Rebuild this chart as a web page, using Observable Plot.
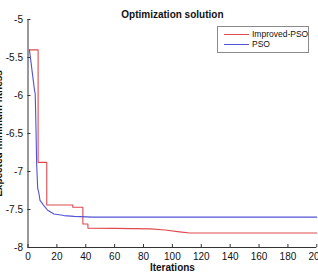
<!DOCTYPE html>
<html>
<head>
<meta charset="utf-8">
<script src="https://cdn.jsdelivr.net/npm/d3@7"></script>
<script src="https://cdn.jsdelivr.net/npm/@observablehq/plot@0.6"></script>
<style>
  html, body { margin: 0; padding: 0; background: #fff; }
  #wrap { position: relative; width: 318px; height: 277px; font-family: "Liberation Sans", Arial, sans-serif; }
  .legend { position: absolute; left: 217px; top: 26px; width: 90px; height: 25px; border: 1px solid #8a8a8a; background: #fff; font-size: 8.5px; color: #111; }
  .legend .row { position: absolute; left: 6px; height: 10px; display: flex; align-items: center; white-space: nowrap; }
  .legend .sw { width: 25px; height: 0; border-top: 1px solid; margin-right: 3px; flex: none; }
</style>
</head>
<body>
<div id="wrap"></div>
<script>
// Convergence of the best fitness per iteration for both optimisers
const improvedIter = [1, 7, 7, 13, 13, 31, 31, 38, 38, 41.5, 41.5, 60, 85, 95, 105, 112, 200];
const improvedFit  = [-5.4, -5.4, -6.88, -6.88, -7.44, -7.44, -7.47, -7.47, -7.69, -7.69, -7.745, -7.748, -7.755, -7.77, -7.795, -7.81, -7.81];

const psoIter = [1, 4.5, 5, 5.5, 6, 6.7, 7.5, 8.3, 9.5, 11, 13.6, 18, 25, 32, 45, 200];
const psoFit  = [-5.4, -5.93, -5.98, -6.4, -6.9, -7.22, -7.28, -7.38, -7.41, -7.45, -7.51, -7.56, -7.58, -7.59, -7.6, -7.6];

const seriesNames = ["Improved-PSO", "PSO"];
const seriesColors = ["#e04a4f", "#5352d6"];

const xTicks = d3.range(0, 201, 20);
const yTicks = [-8, -7.5, -7, -6.5, -6, -5.5, -5];

const title = "Optimization solution";
const xLabel = "Iterations";
const yLabel = "Expected minimum fitness";

const improved = improvedIter.map((x, i) => ({x, y: improvedFit[i]}));
const pso = psoIter.map((x, i) => ({x, y: psoFit[i]}));

const W = 318, H = 277;
const mL = 27.5, mR = 1.7, mT = 19, mB = 30;
const innerW = W - mL - mR, innerH = H - mT - mB;
const axisColor = "#333";

const chart = Plot.plot({
  width: W,
  height: H,
  marginLeft: mL,
  marginRight: mR,
  marginTop: mT,
  marginBottom: mB,
  style: { fontFamily: "'Liberation Sans', Arial, sans-serif", fontSize: "10px", background: "#fff", color: "#111" },
  x: { domain: [0, 200] },
  y: { domain: [-8, -5] },
  marks: [
    Plot.axisX({ ticks: xTicks, tickSize: 0, tickPadding: 5, label: null, tickFormat: d => String(d) }),
    Plot.axisY({ ticks: yTicks, tickSize: 0, tickPadding: 5, label: null, tickFormat: d => String(d) }),
    // inward ticks
    Plot.tickX(xTicks, { x: d => d, insetTop: innerH - 3, stroke: axisColor }),
    Plot.tickY(yTicks, { y: d => d, insetRight: innerW - 3, stroke: axisColor }),
    Plot.ruleY([-8], { stroke: axisColor }),
    Plot.ruleX([0], { stroke: axisColor }),
    Plot.line(improved, { x: "x", y: "y", stroke: seriesColors[0], strokeWidth: 1.1 }),
    Plot.line(pso, { x: "x", y: "y", stroke: seriesColors[1], strokeWidth: 1.1 }),
    Plot.text([title], { frameAnchor: "top", dy: -9, fontWeight: "bold", fontSize: 10 }),
    Plot.text([xLabel], { frameAnchor: "bottom", dy: 23, fontWeight: "bold", fontSize: 10 }),
    Plot.text([yLabel], { frameAnchor: "left", dx: -29, rotate: -90, textAnchor: "middle", fontWeight: "bold", fontSize: 10 })
  ]
});

const wrap = document.getElementById("wrap");
wrap.appendChild(chart);

const legend = document.createElement("div");
legend.className = "legend";
seriesNames.forEach((name, i) => {
  const row = document.createElement("div");
  row.className = "row";
  row.style.top = (2 + i * 10) + "px";
  const sw = document.createElement("span");
  sw.className = "sw";
  sw.style.borderTopColor = seriesColors[i];
  const label = document.createElement("span");
  label.textContent = name;
  row.appendChild(sw);
  row.appendChild(label);
  legend.appendChild(row);
});
wrap.appendChild(legend);
</script>
</body>
</html>
